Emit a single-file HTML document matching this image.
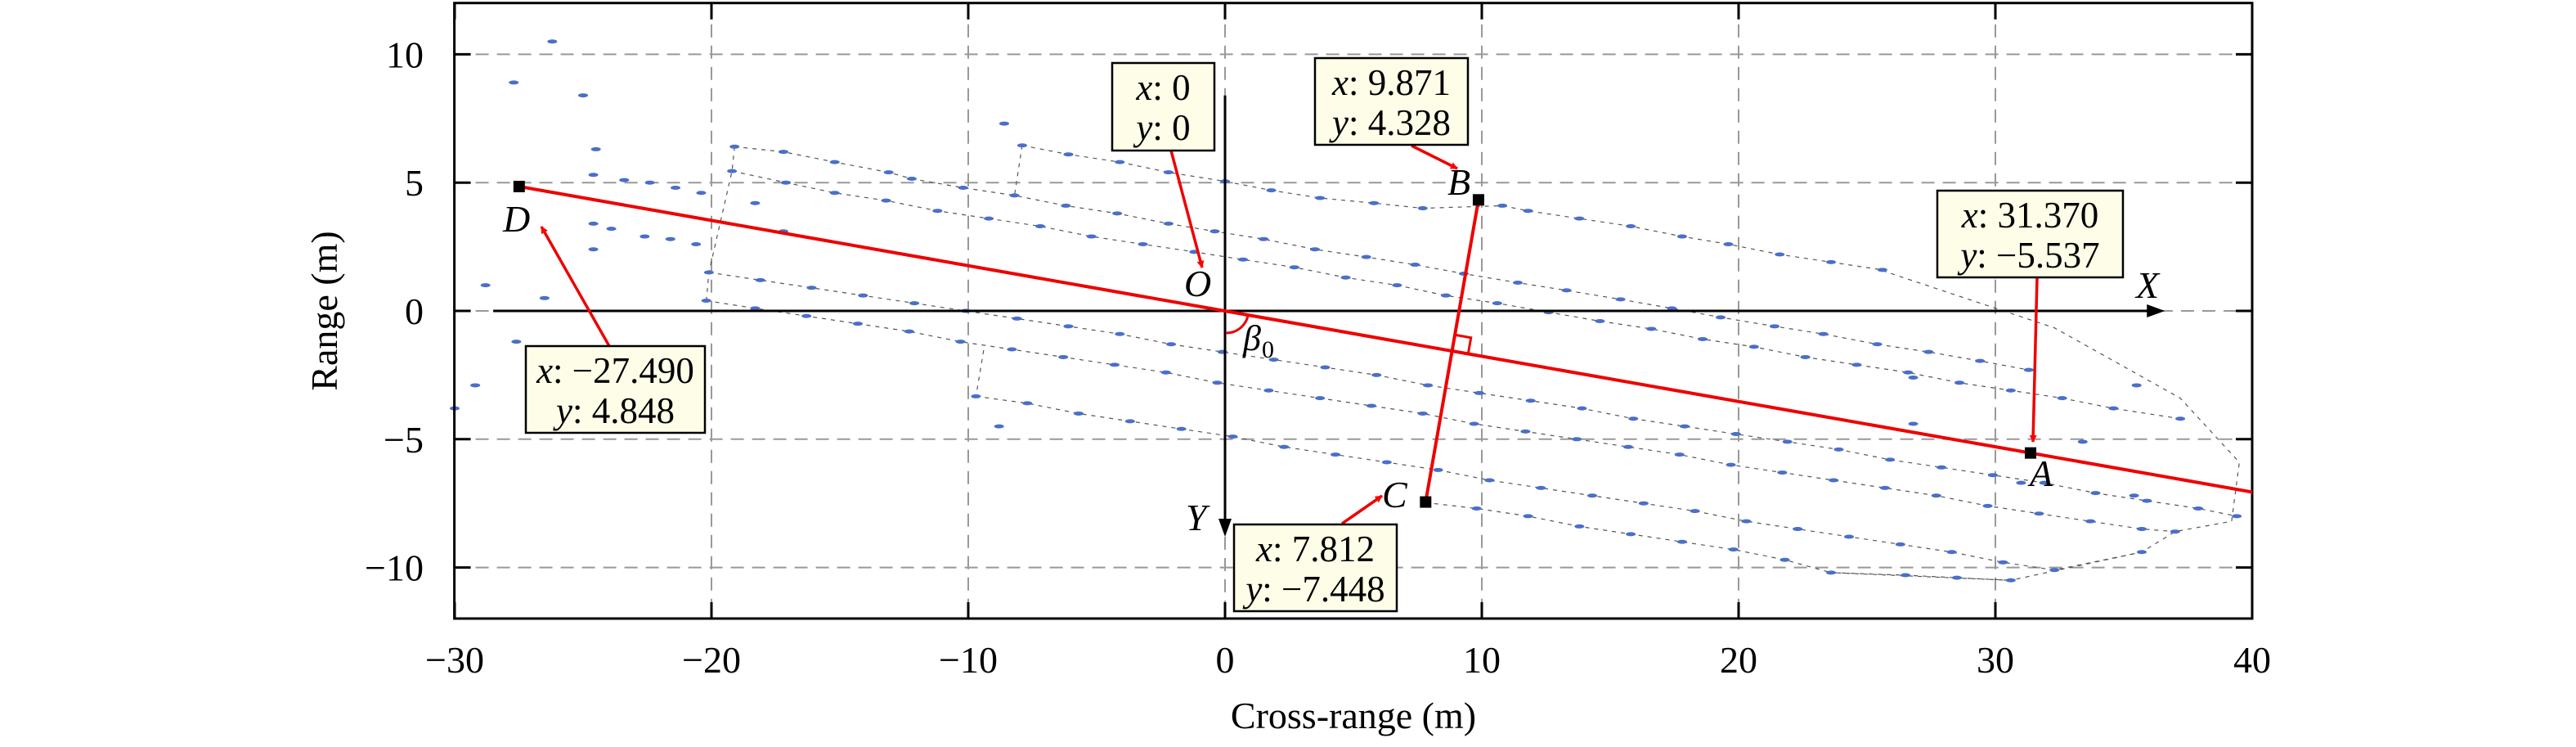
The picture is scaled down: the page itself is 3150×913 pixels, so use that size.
<!DOCTYPE html>
<html><head><meta charset="utf-8"><style>
html,body{margin:0;padding:0;background:#fff}
svg{display:block}
text{font-family:"Liberation Serif",serif;fill:#000}
</style></head><body>
<svg id="chart" width="3150" height="913" viewBox="0 0 3150 913" xmlns="http://www.w3.org/2000/svg">
<defs>
<marker id="ra" viewBox="0 0 10 10" refX="9" refY="5" markerWidth="9" markerHeight="9" orient="auto" markerUnits="userSpaceOnUse"><path d="M0,0 L10,5 L0,10 z" fill="#f00"/></marker>
</defs>
<g id="grid"></g>
<g id="ship"></g>
<g id="pts"></g>
<g id="axes"></g>
<g id="ann"></g>
</svg>
<script>
const xTicks=[-30,-20,-10,0,10,20,30,40];
const yTicks=[-10,-5,0,5,10];
const xLabels=["\u221230","\u221220","\u221210","0","10","20","30","40"];
const yLabels=["\u221210","\u22125","0","5","10"];
const rowXs=[
[-7.9,-6.1,-4.1,-2.2,0,1.8,3.7,5.8,7.7,10.8,11.8,13.8,15.8,17.8,19.6,21.6,23.6,25.6],
[-19.1,-17.2,-15.2,-13.1,-12.2,-10.2,-8.2,-6.2,-4.2,-2.2,-0.4,1.5,3.5,5.5,7.4,9.3,11.4,13.3,15.4,17.4,19.3,21.4,23.3,25.4,27.4,29.4,31.3],
[-19.2,-17.1,-15.2,-13.2,-11.2,-9.2,-7.2,-5.2,-3.2,-1.2,0.7,2.7,4.7,6.7,8.6,10.6,12.6,14.6,16.6,18.6,20.6,22.6,24.6,26.6,28.6,30.6,32.6,34.6,37.2],
[-20.1,-18.1,-16.1,-14.1,-12.1,-10.1,-8.1,-6.1,-4.1,-2.1,-0.1,1.9,3.9,5.9,7.9,9.9,11.9,13.9,15.9,17.9,19.9,21.9,23.9,25.9,27.9,29.9,31.9,33.9,35.9,37.9,39.4],
[-20.2,-18.3,-16.3,-14.3,-12.3,-10.3,-8.3,-6.3,-4.3,-2.3,-0.3,1.7,3.7,5.7,7.7,9.7,11.7,13.7,15.7,17.7,19.7,21.7,23.7,25.7,27.7,29.7,31.7,33.7,35.7,37.0],
[-9.7,-7.7,-5.7,-3.7,-1.7,0.3,2.3,4.3,6.3,8.3,10.3,12.3,14.3,16.3,18.3,20.3,22.3,24.3,26.3,28.3,30.3,32.3,35.7],
[7.8,9.8,11.8,13.8,15.8,17.8,19.8,21.8,23.6,26.5,28.5,30.6]
];
const rowYs=[
[6.45,6.1,5.8,5.4,5.05,4.7,4.4,4.2,4.0,4.1,3.9,3.6,3.3,2.9,2.6,2.2,1.9,1.6],
[6.4,6.2,5.8,5.4,5.15,4.8,4.5,4.1,3.8,3.4,3.1,2.8,2.4,2.1,1.8,1.45,1.1,0.8,0.45,0.1,-0.25,-0.6,-0.9,-1.3,-1.6,-1.95,-2.3],
[5.45,5.0,4.6,4.3,3.9,3.6,3.3,2.9,2.6,2.3,2.0,1.7,1.3,1.0,0.6,0.3,-0.05,-0.4,-0.7,-1.1,-1.4,-1.8,-2.1,-2.4,-2.8,-3.1,-3.4,-3.8,-4.2],
[1.5,1.2,0.9,0.6,0.3,0.0,-0.3,-0.6,-0.9,-1.3,-1.6,-1.9,-2.2,-2.5,-2.9,-3.2,-3.5,-3.8,-4.2,-4.5,-4.8,-5.1,-5.4,-5.8,-6.1,-6.4,-6.7,-7.1,-7.4,-7.7,-8.0],
[0.4,0.1,-0.2,-0.5,-0.8,-1.2,-1.5,-1.8,-2.1,-2.4,-2.8,-3.1,-3.4,-3.7,-4.0,-4.4,-4.7,-5.0,-5.3,-5.6,-6.0,-6.3,-6.6,-6.9,-7.2,-7.6,-7.9,-8.2,-8.5,-8.6],
[-3.33,-3.6,-4.0,-4.3,-4.6,-4.9,-5.3,-5.6,-5.9,-6.2,-6.6,-6.9,-7.2,-7.5,-7.8,-8.2,-8.5,-8.8,-9.1,-9.4,-9.8,-10.1,-9.4],
[-7.47,-7.7,-8.0,-8.4,-8.7,-9.0,-9.3,-9.7,-10.2,-10.3,-10.4,-10.5]
];
const outX=[[-19.1,-19.2,-20.1,-20.2],[-7.9,-8.2],[-9.4,-9.7],[25.6,32.3,37.2,39.5,39.2,37.0,35.7,30.6,23.6]];
const outY=[[6.4,5.45,1.5,0.4],[6.45,4.5],[-1.53,-3.33],[1.57,-0.66,-3.4,-5.9,-8.2,-8.6,-9.4,-10.5,-10.2]];
const extraX=[-28.8,-27.7,-26.2,-25.0,-24.5,-24.6,-23.4,-22.4,-21.4,-20.4,-24.6,-23.9,-22.6,-21.6,-20.6,-24.6,-26.5,-27.6,-29.2,-30.0,-8.6,-18.3,-17.2,-8.8,26.8,26.8,35.5,33.4,31.0,35.4];
const extraY=[1.0,8.9,10.5,8.4,6.3,5.3,5.1,5.0,4.8,4.6,3.4,3.2,2.9,2.8,2.6,2.4,0.5,-1.2,-2.9,-3.8,7.3,4.2,3.1,-4.5,-2.6,-4.4,-2.9,-5.1,-6.7,-7.2];
const ptsLabel=[["O",0,0],["A",31.37,-5.537],["B",9.871,4.328],["C",7.812,-7.448],["D",-27.49,4.848]];

const NS="http://www.w3.org/2000/svg";
const X=v=>1498+v*31.4, Y=v=>380-v*31.36;
const L=555.6,R=2754,T=3.7,B=756;
function el(p,tag,a,txt){const e=document.createElementNS(NS,tag);for(const k in a)e.setAttribute(k,a[k]);if(txt!==undefined)e.textContent=txt;p.appendChild(e);return e;}
const g=document.getElementById('grid'),sh=document.getElementById('ship'),pg=document.getElementById('pts'),ax=document.getElementById('axes'),an=document.getElementById('ann');
xTicks.forEach((t,i)=>{
 if(t>-30&&t<40&&t!==0){const l=el(g,'line',{x1:X(t),x2:X(t),y1:T,y2:B,stroke:'#999','stroke-width':2,'stroke-dasharray':'16,10'});
 }
 el(ax,'line',{x1:X(t),x2:X(t),y1:B,y2:B-20,stroke:'#000','stroke-width':3});
 el(ax,'line',{x1:X(t),x2:X(t),y1:T,y2:T+20,stroke:'#000','stroke-width':3});
 const tx=el(ax,'text',{x:X(t),y:822,'font-size':46,'text-anchor':'middle'},xLabels[i]);
 
});
yTicks.forEach((t,i)=>{
 if(t!==0){const l=el(g,'line',{x1:L,x2:R,y1:Y(t),y2:Y(t),stroke:'#999','stroke-width':2,'stroke-dasharray':'16,10'});
 }
 else{el(g,'line',{x1:X(36.4),x2:R,y1:Y(0),y2:Y(0),stroke:'#999','stroke-width':2,'stroke-dasharray':'16,10'});}
 el(ax,'line',{x1:L,x2:L+20,y1:Y(t),y2:Y(t),stroke:'#000','stroke-width':3});
 el(ax,'line',{x1:R,x2:R-20,y1:Y(t),y2:Y(t),stroke:'#000','stroke-width':3});
 const tx=el(ax,'text',{x:518,y:Y(t)+16,'font-size':46,'text-anchor':'end'},yLabels[i]);
 
});
el(g,'line',{x1:X(0),x2:X(0),y1:T,y2:Y(8.4),stroke:'#999','stroke-width':2,'stroke-dasharray':'16,10'});
el(g,'line',{x1:X(0),x2:X(0),y1:Y(-8.8),y2:B,stroke:'#999','stroke-width':2,'stroke-dasharray':'16,10'});
el(g,'line',{x1:L,x2:X(-28.5),y1:Y(0),y2:Y(0),stroke:'#999','stroke-width':2,'stroke-dasharray':'16,10'});
rowXs.forEach((xs,r)=>{
 const d=xs.map((x,i)=>(i?'L':'M')+X(x)+','+Y(rowYs[r][i])).join(' ');
 const p=el(sh,'path',{d:d,fill:'none',stroke:'#555','stroke-width':1.2,'stroke-dasharray':'5,6'});
 
});
outX.forEach((xs,r)=>{
 const d=xs.map((x,i)=>(i?'L':'M')+X(x)+','+Y(outY[r][i])).join(' ');
 const p=el(sh,'path',{d:d,fill:'none',stroke:'#555','stroke-width':1.2,'stroke-dasharray':'5,6'});
 
});
function dot(x,y){
 const e=el(pg,'ellipse',{cx:X(x),cy:Y(y),rx:6,ry:2.5,fill:'#4a6fc9'});
 
}
rowXs.forEach((xs,r)=>xs.forEach((x,i)=>dot(x,rowYs[r][i])));
extraX.forEach((x,i)=>dot(x,extraY[i]));
const box=el(ax,'rect',{x:L,y:T,width:R-L,height:B-T,fill:'none',stroke:'#000','stroke-width':3});

el(ax,'line',{x1:X(-28.5),x2:X(36.0),y1:Y(0),y2:Y(0),stroke:'#000','stroke-width':3});
el(ax,'path',{d:`M${X(36.6)},${Y(0)} l-22,-8 l0,16 z`,fill:'#000'});
el(ax,'line',{x1:X(0),x2:X(0),y1:Y(8.4),y2:Y(-8.2),stroke:'#000','stroke-width':3});
el(ax,'path',{d:`M${X(0)},${Y(-8.8)} l-8,-22 l16,0 z`,fill:'#000'});
el(ax,'text',{x:2612,y:364,'font-size':46,'font-style':'italic'},'X');
el(ax,'text',{x:1450,y:648,'font-size':46,'font-style':'italic'},'Y');
const xt=el(ax,'text',{x:1655,y:890,'font-size':46,'text-anchor':'middle'},'Cross-range (m)');

const yt=el(ax,'text',{x:0,y:0,'font-size':46,'text-anchor':'middle',transform:'translate(412,380) rotate(-90)'},'Range (m)');

// red lines
const D=ptsLabel[4],A=ptsLabel[1],Bp=ptsLabel[2],Cp=ptsLabel[3];
const dl=el(an,'line',{x1:X(D[1]),y1:Y(D[2]),x2:X(40),y2:Y(40*A[2]/A[1]),stroke:'#e00','stroke-width':4});

const bc=el(an,'line',{x1:X(Bp[1]),y1:Y(Bp[2]),x2:X(Cp[1]),y2:Y(Cp[2]),stroke:'#e00','stroke-width':4});

// right-angle marker at intersection (pixel space)
(function(){
 const p1=[X(D[1]),Y(D[2])],p2=[X(A[1]),Y(A[2])],q1=[X(Cp[1]),Y(Cp[2])],q2=[X(Bp[1]),Y(Bp[2])];
 const d1=[p2[0]-p1[0],p2[1]-p1[1]],d2=[q2[0]-q1[0],q2[1]-q1[1]];
 const den=d1[0]*d2[1]-d1[1]*d2[0];
 const t=((q1[0]-p1[0])*d2[1]-(q1[1]-p1[1])*d2[0])/den;
 const P=[p1[0]+t*d1[0],p1[1]+t*d1[1]];
 const n1=Math.hypot(...d1),n2=Math.hypot(...d2),s=20;
 const u=[d1[0]/n1*s,d1[1]/n1*s],v=[d2[0]/n2*s,d2[1]/n2*s];
 const m=el(an,'path',{d:`M${P[0]+u[0]},${P[1]+u[1]} L${P[0]+u[0]+v[0]},${P[1]+u[1]+v[1]} L${P[0]+v[0]},${P[1]+v[1]}`,fill:'none',stroke:'#e00','stroke-width':3});
 
})();
el(an,'path',{d:'M1499,407 A27,27 0 0 0 1526,386',fill:'none',stroke:'#e00','stroke-width':3});
el(an,'text',{x:1520,y:428,'font-size':44,'font-style':'italic'},'\u03b2');
el(an,'text',{x:1543,y:437,'font-size':30},'0');
const lblPos={O:[1448,362],A:[2482,594],B:[1770,238],C:[1690,620],D:[615,283]};
ptsLabel.forEach(p=>{
 if(p[0]!=='O'){const s=el(an,'rect',{x:X(p[1])-7,y:Y(p[2])-7,width:14,height:14,fill:'#000'});
 }
 const t=el(an,'text',{x:lblPos[p[0]][0],y:lblPos[p[0]][1],'font-size':46,'font-style':'italic'},p[0]);
 
});
const tips=[
 {n:'o',x:1360,y:77,w:125,h:107,xs:'0',ys:'0',a:[1432,184,1470,327]},
 {n:'b',x:1608,y:71,w:187,h:106,xs:'9.871',ys:'4.328',a:[1726,178,1782,206]},
 {n:'a',x:2369,y:233,w:227,h:106,xs:'31.370',ys:'\u22125.537',a:[2491,339,2486,540]},
 {n:'c',x:1509,y:641,w:199,h:106,xs:'7.812',ys:'\u22127.448',a:[1641,640,1690,606]},
 {n:'d',x:643,y:423,w:219,h:106,xs:'\u221227.490',ys:'4.848',a:[745,423,662,277]}
];
tips.forEach(t=>{
 const ar=el(an,'line',{x1:t.a[0],y1:t.a[1],x2:t.a[2],y2:t.a[3],stroke:'#e00','stroke-width':3.5,'marker-end':'url(#ra)'});
 
 const r=el(an,'rect',{x:t.x,y:t.y,width:t.w,height:t.h,fill:'#fdfde8',stroke:'#000','stroke-width':2.5});
 
 const tx=el(an,'text',{x:t.x+t.w/2,y:t.y+45,'font-size':45,'text-anchor':'middle'});
 el(tx,'tspan',{'font-style':'italic'},'x');el(tx,'tspan',{},': '+t.xs);
 const ty=el(an,'text',{x:t.x+t.w/2,y:t.y+94,'font-size':45,'text-anchor':'middle'});
 el(ty,'tspan',{'font-style':'italic'},'y');el(ty,'tspan',{},': '+t.ys);
});
</script>
</body></html>
